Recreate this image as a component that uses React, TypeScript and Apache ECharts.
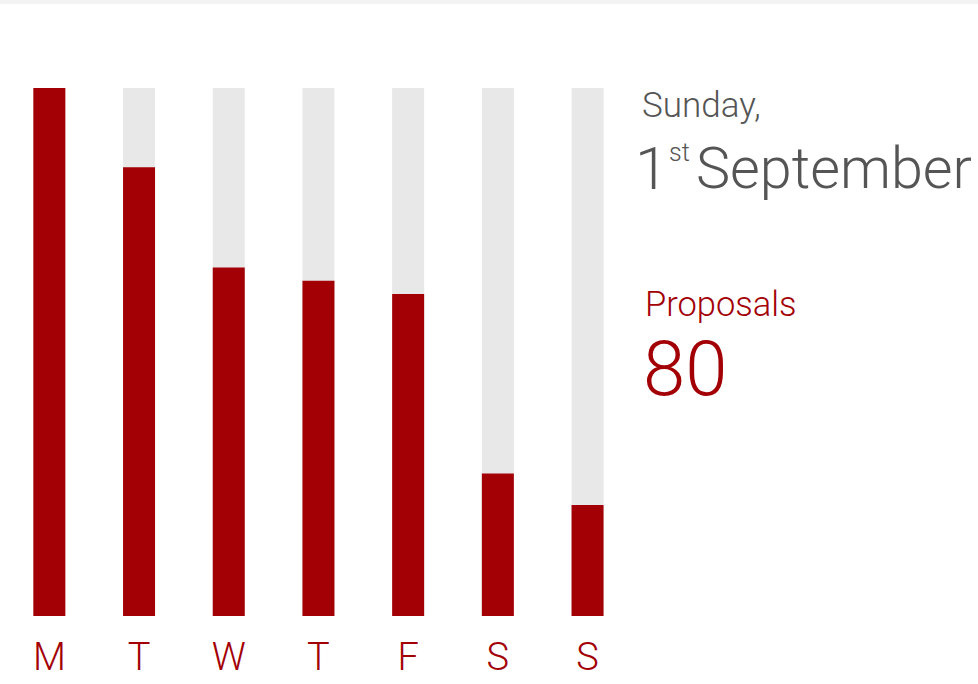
import React, { useEffect, useRef } from "react";
import * as echarts from "echarts";

const days = ["M", "T", "W", "T", "F", "S", "S"];
const proposals = [100, 85, 66, 63.5, 61, 27, 21];
const maxValue = 100;
const dayTitle = "Sunday,";
const dateNumber = "1";
const dateSuffix = "st";
const monthName = "September";
const metricName = "Proposals";
const metricValue = "80";

const RED = "#a30006";
const GRAY_TEXT = "#555555";
const FONT = "Roboto, 'Noto Sans', sans-serif";

export default function App() {
  const ref = useRef<HTMLDivElement>(null);
  useEffect(() => {
    if (!ref.current) return;
    const chart = echarts.init(ref.current, null, { renderer: "svg" });
    chart.setOption({
      animation: false,
      backgroundColor: "#ffffff",
      grid: { left: 4.5, right: 345.6, top: 88, bottom: 68, containLabel: false },
      xAxis: {
        type: "category",
        data: days,
        boundaryGap: true,
        axisLine: { show: false },
        axisTick: { show: false },
        axisLabel: {
          color: RED,
          fontSize: 38,
          fontWeight: 300,
          fontFamily: FONT,
          margin: 22,
          interval: 0,
        },
      },
      yAxis: {
        type: "value",
        min: 0,
        max: maxValue,
        show: false,
        splitLine: { show: false },
      },
      series: [
        {
          type: "bar",
          data: proposals,
          barWidth: 32,
          itemStyle: { color: RED },
          showBackground: true,
          backgroundStyle: { color: "#e8e8e8" },
        },
      ],
      graphic: [
        { type: "rect", left: 0, top: 0, shape: { width: 978, height: 4 }, style: { fill: "#f3f3f3" } },
        {
          type: "text", x: 642, y: 105.5,
          style: { text: dayTitle, fill: GRAY_TEXT, fontSize: 35, fontWeight: 300, fontFamily: FONT, verticalAlign: "middle", align: "left" },
        },
        {
          type: "text", x: 635, y: 168.5,
          style: { text: dateNumber, fill: GRAY_TEXT, fontSize: 60, fontWeight: 300, fontFamily: FONT, verticalAlign: "middle", align: "left" },
        },
        {
          type: "text", x: 669, y: 152.7,
          style: { text: dateSuffix, fill: GRAY_TEXT, fontSize: 25, fontWeight: 300, fontFamily: FONT, verticalAlign: "middle", align: "left" },
        },
        {
          type: "text", x: 696, y: 168.5,
          style: { text: monthName, fill: GRAY_TEXT, fontSize: 57.5, fontWeight: 300, fontFamily: FONT, verticalAlign: "middle", align: "left" },
        },
        {
          type: "text", x: 645, y: 304.3,
          style: { text: metricName, fill: RED, fontSize: 34.5, fontWeight: 300, fontFamily: FONT, verticalAlign: "middle", align: "left" },
        },
        {
          type: "text", x: 643, y: 368.5,
          style: { text: metricValue, fill: RED, fontSize: 76, fontWeight: 300, fontFamily: FONT, verticalAlign: "middle", align: "left" },
        },
      ],
    });
    return () => chart.dispose();
  }, []);
  return (
    <div
      ref={ref}
      style={{ position: "absolute", left: 0, top: 0, width: 978, height: 684 }}
    />
  );
}
